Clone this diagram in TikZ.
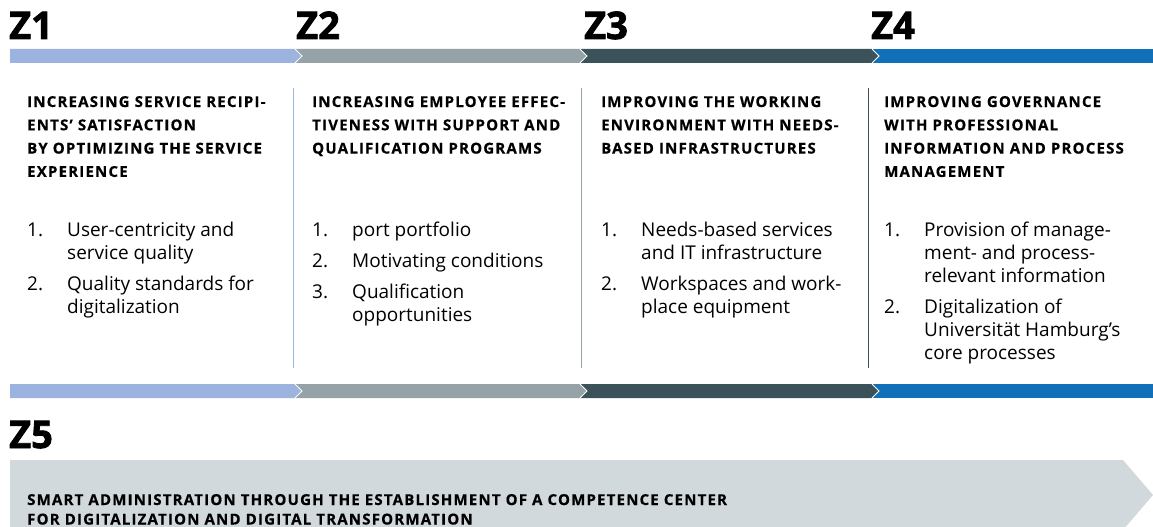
\documentclass[tikz,border=0pt]{standalone}
\usepackage{fontspec}
\usepackage{array}
\setmainfont{Open Sans}
\newfontfamily\zfont[FakeBold=2.2]{Open Sans}
\newfontfamily\capfont[LetterSpace=8,FakeBold=0.6]{Open Sans}
\definecolor{zone1}{HTML}{9DB3DF}
\definecolor{zone2}{HTML}{95A3A8}
\definecolor{zone3}{HTML}{3C525A}
\definecolor{zone4}{HTML}{1071B9}
\definecolor{zone5}{HTML}{D2D9DD}
\tikzset{
  zlabel/.style={anchor=base west, inner sep=0pt, font=\zfont\bfseries\fontsize{38}{40}\selectfont},
  headtext/.style={anchor=base west, inner sep=0pt, font=\capfont\bfseries\fontsize{15}{23.3}\selectfont},
  listtext/.style={anchor=base west, inner sep=0pt, font=\fontsize{19}{23}\selectfont},
  tipline/.style={draw=white, line width=0.8pt},
  sepline/.style={line width=1pt}
}
\newcommand{\itemlist}[1]{\begin{tabular}[t]{@{}p{40pt}@{}l@{}}#1\end{tabular}}
\newcommand{\headlines}[1]{\begin{tabular}[t]{@{}l@{}}#1\end{tabular}}
\begin{document}
\begin{tikzpicture}[x=1pt,y=-1pt]
\useasboundingbox (0,0) rectangle (1153,527);
\clip (0,0) rectangle (1153,527);
% bars
\foreach \t in {49,384}{
  \pgfmathsetmacro{\b}{\t+14}
  \pgfmathsetmacro{\m}{\t+7}
  \fill[zone4] (872,\t) rectangle (1153,\b);
  \fill[zone3] (580,\t) -- (872,\t) -- (879,\m) -- (872,\b) -- (580,\b) -- cycle;
  \draw[tipline] (872,\t) -- (879,\m) -- (872,\b);
  \fill[zone2] (295,\t) -- (580,\t) -- (587,\m) -- (580,\b) -- (295,\b) -- cycle;
  \draw[tipline] (580,\t) -- (587,\m) -- (580,\b);
  \fill[zone1] (10,\t) -- (295,\t) -- (302,\m) -- (295,\b) -- (10,\b) -- cycle;
  \draw[tipline] (295,\t) -- (302,\m) -- (295,\b);
}
% separators
\draw[sepline, zone1] (293,88) -- (293,368);
\draw[sepline, zone2] (581,88) -- (581,368);
\draw[sepline, zone3] (868,88) -- (868,368);
% Z5 box
\fill[zone5] (10,460) -- (1123,460) -- (1153,495) -- (1123,530) -- (10,530) -- cycle;
% labels
\node[zlabel] (z1) at (9,39) {Z1};
\node[zlabel] (z2) at (296,39) {Z2};
\node[zlabel] (z3) at (584,39) {Z3};
\node[zlabel] (z4) at (871,39) {Z4};
\node[zlabel] (z5) at (9,448) {Z5};
% headings
\node[headtext] (h1) at (27,107) {\headlines{INCREASING SERVICE RECIPI-\\ENTS’ SATISFACTION\\BY OPTIMIZING THE SERVICE\\EXPERIENCE}};
\node[headtext] (h2) at (312,107) {\headlines{INCREASING EMPLOYEE EFFEC-\\TIVENESS WITH SUPPORT AND\\QUALIFICATION PROGRAMS}};
\node[headtext] (h3) at (601,107) {\headlines{IMPROVING THE WORKING\\ENVIRONMENT WITH NEEDS-\\BASED INFRASTRUCTURES}};
\node[headtext] (h4) at (884,107) {\headlines{IMPROVING GOVERNANCE\\WITH PROFESSIONAL\\INFORMATION AND PROCESS\\MANAGEMENT}};
% lists
\node[listtext] (l1) at (27,236) {\itemlist{1. & User-centricity and\\ & service quality\\[8pt] 2. & Quality standards for\\ & digitalization}};
\node[listtext] (l2) at (312,236) {\itemlist{1. & port portfolio\\[8pt] 2. & Motivating conditions\\[8pt] 3. & Qualification\\ & opportunities}};
\node[listtext] (l3) at (601,236) {\itemlist{1. & Needs-based services\\ & and IT infrastructure\\[8pt] 2. & Workspaces and work-\\ & place equipment}};
\node[listtext] (l4) at (884,236) {\itemlist{1. & Provision of manage-\\ & ment- and process-\\ & relevant information\\[8pt] 2. & Digitalization of\\ & Universität Hamburg’s\\ & core processes}};
% Z5 text
\node[headtext, font=\capfont\bfseries\fontsize{15}{19.5}\selectfont] (t5) at (27,505) {\headlines{SMART ADMINISTRATION THROUGH THE ESTABLISHMENT OF A COMPETENCE CENTER\\FOR DIGITALIZATION AND DIGITAL TRANSFORMATION}};
\end{tikzpicture}
\end{document}
